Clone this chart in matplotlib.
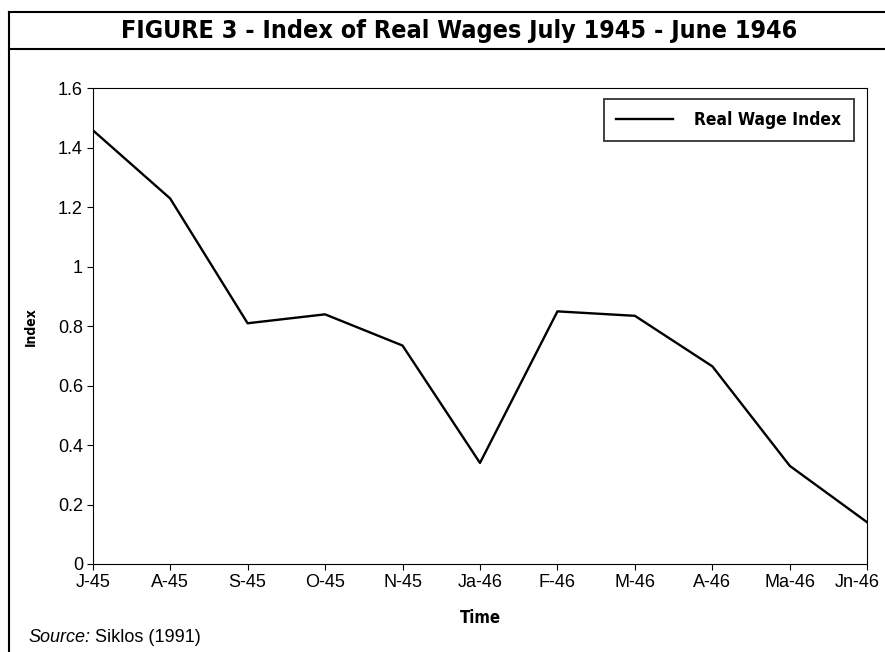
import matplotlib
matplotlib.use("Agg")
import matplotlib.pyplot as plt
from matplotlib.lines import Line2D
from matplotlib.transforms import ScaledTranslation

# 数据
months = ["J-45", "A-45", "S-45", "O-45", "N-45", "Ja-46",
          "F-46", "M-46", "A-46", "Ma-46", "Jn-46"]
real_wage = [1.46, 1.23, 0.81, 0.84, 0.735, 0.34,
             0.85, 0.835, 0.665, 0.33, 0.14]
y_ticks = [0, 0.2, 0.4, 0.6, 0.8, 1, 1.2, 1.4, 1.6]
y_tick_labels = ["0", "0.2", "0.4", "0.6", "0.8", "1", "1.2", "1.4", "1.6"]

plt.rcParams["font.family"] = ["Liberation Sans", "DejaVu Sans"]

fig = plt.figure(figsize=(8.85, 6.52), dpi=100)
ax = fig.add_axes([0.1047, 0.135, 0.8753, 0.7293])

x = list(range(len(months)))
ax.plot(x, real_wage, color="black", lw=1.7, label="Real Wage Index")

ax.set_xlim(0, len(months) - 1)
ax.set_ylim(0, 1.6)
ax.set_xticks(x)
ax.set_xticklabels(months, fontsize=13)
ax.set_yticks(y_ticks)
ax.set_yticklabels(y_tick_labels, fontsize=13)
ax.tick_params(direction="out", length=4, width=0.8, pad=3)
for s in ax.spines.values():
    s.set_linewidth(0.8)

# 最后一个刻度标签左移一点，避免被裁掉
last = ax.get_xticklabels()[-1]
last.set_transform(last.get_transform() + ScaledTranslation(-0.1, 0, fig.dpi_scale_trans))

ax.set_ylabel("Index", fontsize=10, fontweight="bold", family="DejaVu Sans",
              fontstretch="condensed", labelpad=14)
ax.set_xlabel("Time", fontsize=12, fontweight="bold", family="DejaVu Sans",
              fontstretch="condensed", labelpad=13)

leg = ax.legend(loc="upper right", bbox_to_anchor=(0.9935, 0.996),
                prop={"family": "DejaVu Sans", "weight": "bold", "size": 12.5,
                      "stretch": "condensed"},
                frameon=True, fancybox=False, edgecolor="black",
                handlelength=3.3, borderpad=0.7, borderaxespad=0.5,
                handletextpad=1.2)
leg.get_frame().set_linewidth(1.3)

# 标题框线
fig.add_artist(Line2D([0.0102, 1.0], [0.9816, 0.9816], color="black", lw=1.5))
fig.add_artist(Line2D([0.0102, 1.0], [0.9248, 0.9248], color="black", lw=1.5))
fig.add_artist(Line2D([0.0102, 0.0102], [0.0, 0.9816], color="black", lw=1.5))

fig.text(0.519, 0.953, "FIGURE 3 - Index of Real Wages July 1945 - June 1946",
         ha="center", va="center", fontsize=18, fontweight="bold",
         family="DejaVu Sans", fontstretch="condensed")

fig.text(0.032, 0.022, "Source:", ha="left", va="center", fontsize=13, style="italic")
fig.text(0.107, 0.022, "Siklos (1991)", ha="left", va="center", fontsize=13)

fig.savefig("out.png", dpi=100)
